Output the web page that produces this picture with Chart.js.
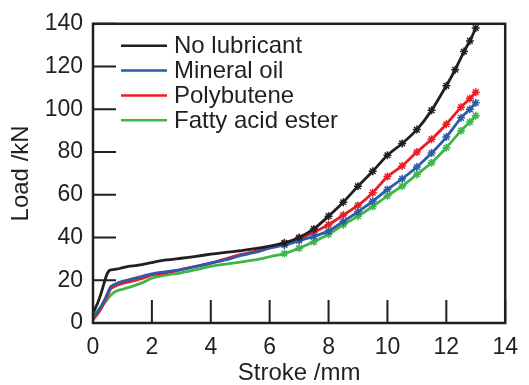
<!DOCTYPE html>
<html><head><meta charset="utf-8">
<script src="https://cdn.jsdelivr.net/npm/chart.js@4/dist/chart.umd.min.js"></script>
<style>html,body{margin:0;padding:0;background:#fff}#wrap{width:529px;height:385px;position:relative}</style>
</head><body><div id="wrap"><canvas id="c"></canvas></div>
<script>
// ---- data ----
const seriesNames = ["No lubricant", "Mineral oil", "Polybutene", "Fatty acid ester"];
const xTickValues = [0, 2, 4, 6, 8, 10, 12, 14];
const yTickValues = [0, 20, 40, 60, 80, 100, 120, 140];

const strokeNoLub = [0, 0.15, 0.3, 0.45, 0.55, 0.7, 0.9, 1.2, 1.5, 2.0, 2.5, 3.0, 3.5, 4.0, 4.5, 5.0, 5.5, 6.0, 6.5, 7.0, 7.5, 8.0, 8.5, 9.0, 9.5, 10.0, 10.5, 11.0, 11.5, 12.0, 12.3, 12.6, 12.8, 13.0];
const loadNoLub   = [5, 9, 15, 22, 24.5, 25, 25.5, 26.5, 27, 28.3, 29.5, 30.3, 31.2, 32.2, 33, 33.8, 34.8, 36, 37.5, 40, 44, 50, 56.5, 64, 71, 78.5, 84, 90.5, 99.5, 111, 118.5, 127, 132, 138];

const strokeOil = [0, 0.2, 0.4, 0.6, 0.8, 1.0, 1.3, 1.7, 2.0, 2.5, 3.0, 3.5, 4.0, 4.5, 5.0, 5.5, 6.0, 6.5, 7.0, 7.5, 8.0, 8.5, 9.0, 9.5, 10.0, 10.5, 11.0, 11.5, 12.0, 12.5, 12.8, 13.0];
const loadOil   = [2.5, 6, 11, 17, 18.5, 19.5, 20.5, 22, 23, 24, 25, 26.5, 28, 29.5, 31.5, 33, 35, 36.5, 38.5, 40.5, 43, 47.5, 52, 57, 62.5, 67.5, 73, 79.5, 87, 96, 100, 103];

const strokePoly = [0, 0.2, 0.4, 0.6, 0.8, 1.0, 1.3, 1.7, 2.0, 2.5, 3.0, 3.5, 4.0, 4.5, 5.0, 5.5, 6.0, 6.5, 7.0, 7.5, 8.0, 8.5, 9.0, 9.5, 10.0, 10.5, 11.0, 11.5, 12.0, 12.5, 12.8, 13.0];
const loadPoly   = [1.5, 5, 10, 16, 17.5, 18.5, 19.5, 21, 22.5, 23.5, 25, 26.5, 28, 30, 32, 33.5, 35.3, 37, 39.5, 42.5, 46, 50.5, 55, 61, 68.5, 73.5, 80, 86, 93, 101, 105, 108];

const strokeEster = [0, 0.2, 0.4, 0.6, 0.8, 1.0, 1.3, 1.7, 2.0, 2.5, 3.0, 3.5, 4.0, 4.5, 5.0, 5.5, 6.0, 6.5, 7.0, 7.5, 8.0, 8.5, 9.0, 9.5, 10.0, 10.5, 11.0, 11.5, 12.0, 12.5, 12.8, 13.0];
const loadEster   = [4, 6.5, 9.5, 13, 15, 15.8, 17, 19, 21, 22.5, 23.5, 25, 26.5, 27.5, 28.5, 29.5, 31, 32.5, 35, 38, 41.5, 46, 50, 54.5, 59.5, 64, 69.5, 75, 82, 90, 94, 97];

const seriesColors = ["#231f20", "#2c5ca8", "#ec1c24", "#3fb54a"];

// ---- build datasets ----
function pairs(xs, ys) { return xs.map((x, i) => ({ x: x, y: ys[i] })); }
const seriesData = [pairs(strokeNoLub, loadNoLub), pairs(strokeOil, loadOil), pairs(strokePoly, loadPoly), pairs(strokeEster, loadEster)];

const FONT = "'Liberation Sans', Arial, Helvetica, sans-serif";
const INK = "#231f20";

const framePlugin = {
  id: 'frameTicks',
  afterDatasetsDraw(chart) {
    const { ctx, chartArea: a, scales } = chart;
    ctx.save();
    ctx.strokeStyle = INK;
    ctx.lineWidth = 2;
    ctx.beginPath();
    xTickValues.forEach(v => {
      const px = scales.x.getPixelForValue(v);
      ctx.moveTo(px, a.bottom); ctx.lineTo(px, a.bottom - 23);
    });
    yTickValues.forEach(v => {
      const py = scales.y.getPixelForValue(v);
      ctx.moveTo(a.left, py); ctx.lineTo(a.left + 23, py);
    });
    ctx.stroke();
    ctx.lineWidth = 2.5;
    ctx.strokeRect(a.left, a.top, a.right - a.left, a.bottom - a.top);
    // legend
    ctx.font = "24px " + FONT;
    ctx.textBaseline = 'middle';
    ctx.textAlign = 'left';
    chart.data.datasets.forEach((ds, i) => {
      const y = a.top + 22 + i * 24.8;
      ctx.strokeStyle = ds.borderColor;
      ctx.lineWidth = 2.5;
      ctx.beginPath(); ctx.moveTo(a.left + 28, y); ctx.lineTo(a.left + 74, y); ctx.stroke();
      ctx.fillStyle = INK;
      ctx.fillText(ds.label, a.left + 81, y + 1);
    });
    ctx.restore();
  }
};

new Chart(document.getElementById('c'), {
  type: 'line',
  data: {
    datasets: seriesNames.map((n, i) => ({
      label: n,
      data: seriesData[i],
      borderColor: seriesColors[i],
      backgroundColor: seriesColors[i],
      borderWidth: 2.8,
      pointRadius: c => (c.raw && c.raw.x > 6 ? 4 : 0),
      pointStyle: 'star',
      pointBorderWidth: 1.5,
      tension: 0.2,
      fill: false
    }))
  },
  options: {
    responsive: true,
    maintainAspectRatio: false,
    animation: false,
    devicePixelRatio: 1,
    layout: { padding: { top: 21, right: 16, left: 0, bottom: 0 } },
    plugins: { legend: { display: false }, tooltip: { enabled: false } },
    scales: {
      x: {
        type: 'linear', min: 0, max: 14,
        afterBuildTicks: s => { s.ticks = xTickValues.map(v => ({ value: v })); },
        afterFit: s => { s.height = 62; },
        grid: { display: false, drawTicks: false },
        border: { display: false },
        ticks: { color: INK, font: { family: FONT, size: 23 }, padding: 11, maxRotation: 0 },
        title: { display: true, text: 'Stroke /mm', color: INK, font: { family: FONT, size: 24, lineHeight: 1 }, padding: { top: 0, bottom: 0 } }
      },
      y: {
        type: 'linear', min: 0, max: 140,
        afterBuildTicks: s => { s.ticks = yTickValues.map(v => ({ value: v })); },
        afterFit: s => { s.width = 93; },
        grid: { display: false, drawTicks: false },
        border: { display: false },
        ticks: { color: INK, font: { family: FONT, size: 23 }, padding: 10 },
        title: { display: true, text: 'Load /kN', color: INK, font: { family: FONT, size: 24, lineHeight: 1 }, padding: { top: 9, bottom: 0 } }
      }
    }
  },
  plugins: [framePlugin]
});
</script>
</body></html>
